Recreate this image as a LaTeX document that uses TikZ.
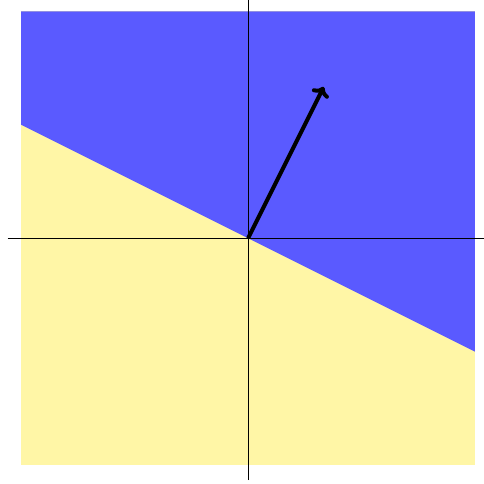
\documentclass[tikz,border=0pt]{standalone}
\usepackage{xcolor}
\usepackage{tikz}
\usetikzlibrary{arrows.meta, calc}

\definecolor{upperblue}{RGB}{90,90,255}
\definecolor{loweryellow}{RGB}{255,246,166}

\begin{document}
\begin{tikzpicture}[
    upper/.style={fill=upperblue},
    lower/.style={fill=loweryellow},
    axis/.style={black, line width=0.4pt},
    normal/.style={black, line width=1.5pt, -{To[length=3.5pt, width=7pt]}}
]
\useasboundingbox (-3.28,-3.25) rectangle (3.12,3.15);

% Half planes split by the line y = -x/2
\fill[lower] (-3,-3) rectangle (3,3);
\fill[upper] (-3,1.5) -- (3,-1.5) -- (3,3) -- (-3,3) -- cycle;

% Axes
\coordinate (O) at (0,0);
\coordinate (xl) at (-3.18,0);
\coordinate (xr) at (3.12,0);
\coordinate (yb) at (0,-3.2);
\coordinate (yt) at (0,3.15);
\draw[axis] (xl) -- (xr);
\draw[axis] (yb) -- (yt);

% Normal vector
\coordinate (w) at (1,2);
\draw[normal] (O) -- (w);

\end{tikzpicture}
\end{document}
